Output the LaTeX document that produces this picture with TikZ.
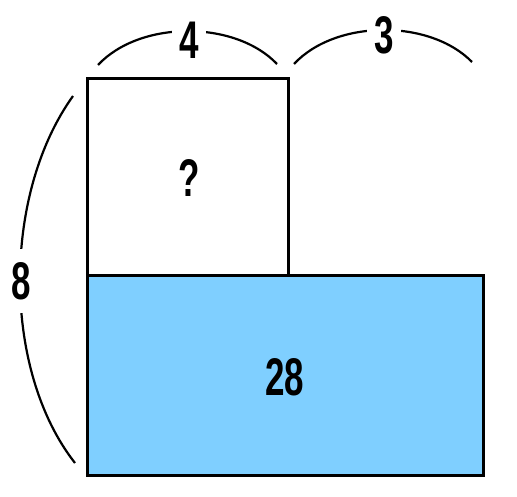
\documentclass[tikz,border=0pt]{standalone}
\usepackage{fontspec}
\newfontfamily\numfont[FakeStretch=0.66]{Liberation Sans}
\definecolor{boxblue}{HTML}{7FCFFF}
\begin{document}
\begin{tikzpicture}[x=1pt,y=-1pt,
  box/.style={draw=black,line width=3pt,outer sep=0pt,inner sep=0pt},
  brace/.style={draw=black,line width=2.2pt},
  lab/.style={font=\numfont\bfseries\fontsize{53}{60}\selectfont,inner sep=0pt,text=black},
  gaplab/.style={lab,fill=white,minimum width=34pt,minimum height=62pt}]
\useasboundingbox (0,0) rectangle (517,497);
% shapes
\node[box,fill=boxblue,minimum width=396pt,minimum height=200pt,anchor=north west] (big) at (87.5,275.5) {};
\node[box,fill=white,minimum width=201pt,minimum height=197pt,anchor=south west] (sq) at (87.5,275.5) {};
\node[lab] (q) at (189,178) {?};
\node[lab] (n28) at (285,377) {28};
% braces
\coordinate (a1) at (98,65);
\coordinate (a2) at (277,64);
\draw[brace] (a1) .. controls (140,20) and (235,20) .. (a2);
\node[gaplab] (n4) at (189,40) {4};
\coordinate (b1) at (294,64);
\coordinate (b2) at (472,62);
\draw[brace] (b1) .. controls (336,19) and (430,19) .. (b2);
\node[gaplab] (n3) at (384,35) {3};
\coordinate (c1) at (73,96);
\coordinate (c2) at (75,463);
\draw[brace] (c1) .. controls (2,195) and (2,370) .. (c2);
\node[lab,fill=white,minimum width=30pt,minimum height=64pt] (n8) at (21,281) {8};
\end{tikzpicture}
\end{document}
